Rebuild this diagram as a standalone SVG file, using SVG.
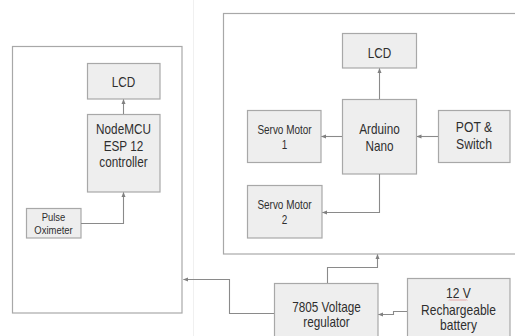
<svg xmlns="http://www.w3.org/2000/svg" width="515" height="336" viewBox="0 0 515 336">
<defs>
<marker id="ah" viewBox="0 0 10 10" refX="9" refY="5" markerWidth="5" markerHeight="5" orient="auto" markerUnits="userSpaceOnUse">
<path d="M0,1 L10,5 L0,9 z" fill="#808080"/>
</marker>
</defs>
<style>
.frame{fill:#ffffff;stroke:#a8a8a8;stroke-width:1.2}
.box{fill:#eeeeee;stroke:#a8a8a8;stroke-width:1.2}
.t{font-family:"Liberation Sans",Arial,sans-serif;fill:#2e2e2e;text-anchor:middle}
.c{fill:none;stroke:#8a8a8a;stroke-width:1.1;marker-end:url(#ah)}
</style>
<rect width="515" height="336" fill="#ffffff"/>
<line x1="193.5" y1="0" x2="193.5" y2="336" stroke="#f0f0f0" stroke-width="1"/>
<g id="left-frame"><rect class="frame" x="12.5" y="46.5" width="169.5" height="266.5"/></g>
<g id="right-frame"><rect class="frame" x="223.5" y="13.5" width="300" height="240.5"/></g>
<g id="lcd1"><rect class="box" x="87.5" y="63.5" width="72.5" height="35.5"/>
<text class="t" font-size="14" transform="translate(123.5,86.5) scale(0.84,1)">LCD</text></g>
<g id="nodemcu"><rect class="box" x="87.5" y="114.5" width="72.5" height="77.5"/>
<text class="t" font-size="14" transform="translate(123.5,134) scale(0.84,1)"><tspan x="0" y="0">NodeMCU</tspan><tspan x="0" y="16.7">ESP 12</tspan><tspan x="0" y="33.4">controller</tspan></text></g>
<g id="pulse"><rect class="box" x="26.5" y="208.5" width="54.5" height="29.5"/>
<text class="t" font-size="11" transform="translate(53.5,220.5) scale(0.86,1)"><tspan x="0" y="0">Pulse</tspan><tspan x="0" y="14">Oximeter</tspan></text></g>
<g id="lcd2"><rect class="box" x="342.5" y="33.5" width="74" height="34.5"/>
<text class="t" font-size="14" transform="translate(379.5,57.5) scale(0.84,1)">LCD</text></g>
<g id="arduino"><rect class="box" x="342.5" y="99.5" width="74" height="74.5"/>
<text class="t" font-size="14" transform="translate(379.5,134) scale(0.84,1)"><tspan x="0" y="0">Arduino</tspan><tspan x="0" y="17.5">Nano</tspan></text></g>
<g id="servo1"><rect class="box" x="247.5" y="110.5" width="73.5" height="52"/>
<text class="t" font-size="12" transform="translate(284.5,133.5) scale(0.83,1)"><tspan x="0" y="0">Servo Motor</tspan><tspan x="0" y="16">1</tspan></text></g>
<g id="pot"><rect class="box" x="438.5" y="110.5" width="71.5" height="52"/>
<text class="t" font-size="14" transform="translate(474,132) scale(0.87,1)"><tspan x="0" y="0">POT &amp;</tspan><tspan x="0" y="17">Switch</tspan></text></g>
<g id="servo2"><rect class="box" x="247.5" y="185.5" width="74.5" height="52.5"/>
<text class="t" font-size="12" transform="translate(284.5,208.5) scale(0.83,1)"><tspan x="0" y="0">Servo Motor</tspan><tspan x="0" y="16">2</tspan></text></g>
<g id="regulator"><rect class="box" x="274.5" y="283.5" width="103.5" height="60"/>
<text class="t" font-size="14" transform="translate(326.5,311.5) scale(0.84,1)"><tspan x="0" y="0">7805 Voltage</tspan><tspan x="0" y="15.5">regulator</tspan></text></g>
<g id="battery"><rect class="box" x="407.5" y="278.5" width="102.5" height="65"/>
<text class="t" font-size="14" transform="translate(458.5,298) scale(0.86,1)"><tspan x="0" y="0">12 V</tspan><tspan x="0" y="17">Rechargeable</tspan><tspan x="0" y="32.5">battery</tspan></text>
<path d="M449,300.5 l1,-1 l1,1 l1,-1 l1,1 l1,-1 l1,1 l1,-1 l1,1 l1,-1 l1,1 l1,-1 l1,1 l1,-1 l1,1 l1,-1 l1,1 l1,-1 l1,1" fill="none" stroke="#e08080" stroke-width="0.7"/></g>
<g id="connectors">
<path class="c" d="M123.5,114 V99.5"/>
<path class="c" d="M81,223.5 H123.5 V192.5"/>
<path class="c" d="M379.5,99 V68.5"/>
<path class="c" d="M342,136.5 H321.5"/>
<path class="c" d="M438,136.5 H417"/>
<path class="c" d="M379.5,174 V212.5 H322.5"/>
<path class="c" d="M407,311.5 H393.5 V314.5 H378.5"/>
<path class="c" d="M327.5,283 V267.5 H377.5 V254.5"/>
<path class="c" d="M274,313.5 H229.5 V279.5 H183.5"/>
</g>
</svg>
